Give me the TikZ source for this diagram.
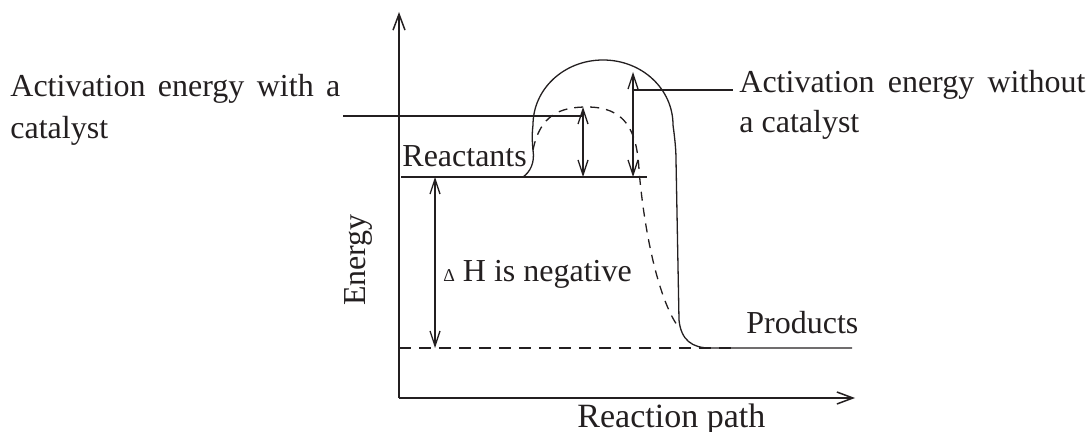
\documentclass[tikz,border=0pt]{standalone}
\usepackage{fontspec}
\setmainfont{Liberation Serif}
\usetikzlibrary{arrows.meta,positioning}
\definecolor{ink}{RGB}{35,31,32}
\tikzset{
  axis/.style={-{Straight Barb[length=8pt,width=6pt]},line width=0.75pt,ink},
  dim/.style={{Straight Barb[length=7.5pt,width=5pt]}-{Straight Barb[length=7.5pt,width=5pt]},line width=0.65pt,ink},
  lvl/.style={line width=0.65pt,ink},
  curve/.style={line width=0.65pt,ink},
  dcurve/.style={line width=0.65pt,ink,dash pattern=on 4.5pt off 3.5pt},
  dlvl/.style={line width=0.65pt,ink,dash pattern=on 6pt off 4pt},
  lbl/.style={inner sep=0pt,text=ink,font=\fontsize{16}{21}\selectfont},
  note/.style={lbl,align=justify},
}

\begin{document}
\begin{tikzpicture}[x=0.5pt,y=-0.5pt]
  \useasboundingbox (0,0) rectangle (1090,432);
  %% ── Points ──────────────────────────────────────────────────────────────
  \coordinate (O)     at (399,398);
  \coordinate (ytip)  at (399,12);
  \coordinate (xtip)  at (855,398);
  \coordinate (rL)    at (401,177);
  \coordinate (rR)    at (647,177);
  \coordinate (pL)    at (399,348);
  \coordinate (pD)    at (735,348);
  \coordinate (pR)    at (852,348);
  \coordinate (dHt)   at (435,177);
  \coordinate (dHb)   at (435,348);
  \coordinate (catT)  at (583,107);
  \coordinate (catB)  at (583,177);
  \coordinate (ncT)   at (633,72);
  \coordinate (ncB)   at (633,177);
  \coordinate (catL)  at (343,116);
  \coordinate (catM)  at (583,116);
  \coordinate (ncM)   at (633,90);
  \coordinate (ncR)   at (733,90);

  %% ── Labels ──────────────────────────────────────────────────────────────
  \node[note,text width=165pt,anchor=base west] (withcat) at (10,97) {Activation energy with a catalyst};
  \node[note,text width=173pt,anchor=base west,font=\fontsize{16}{20}\selectfont] (nocat) at (739,93) {Activation energy without a catalyst};
  \node[lbl,anchor=base west] (react) at (402,167) {Reactants};
  \node[lbl,anchor=base west] (prod)  at (746,333) {Products};
  \node[lbl,anchor=base west] (dH)    at (443,282) {{\fontsize{9}{9}\selectfont Δ} H is negative};
  \node[lbl,anchor=base west,font=\fontsize{17}{20}\selectfont] (xlab) at (577,427) {Reaction path};
  \node[lbl,anchor=base,rotate=90] (ylab) at (365,260) {Energy};

  %% ── Axes and levels ─────────────────────────────────────────────────────
  \draw[axis] (O) -- (ytip);
  \draw[axis] (O) -- (xtip);
  \draw[lvl] (rL) -- (rR);
  \draw[dlvl] (pL) -- (pD);

  %% ── Energy profiles ─────────────────────────────────────────────────────
  \draw[curve] (523,177) .. controls (530,172) and (535,163) .. (533,150)
    .. controls (532,140) and (532,133) .. (533,125)
    .. controls (533,89) and (564,60) .. (603,60)
    .. controls (642,60) and (673,89) .. (673,125)
    .. controls (675,140) and (676,150) .. (676,160)
    -- (679,320) .. controls (681,340) and (692,348) .. (710,348) -- (pR);
  \draw[dcurve] (533,150) .. controls (540,115) and (560,107) .. (587,107)
    .. controls (625,107) and (637,130) .. (639,170)
    .. controls (645,240) and (660,300) .. (677,325);

  %% ── Dimension arrows and leaders ────────────────────────────────────────
  \draw[dim] (dHt) -- (dHb);
  \draw[dim] (catT) -- (catB);
  \draw[dim] (ncT) -- (ncB);
  \draw[lvl] (catL) -- (catM);
  \draw[lvl] (ncM) -- (ncR);
\end{tikzpicture}
\end{document}
